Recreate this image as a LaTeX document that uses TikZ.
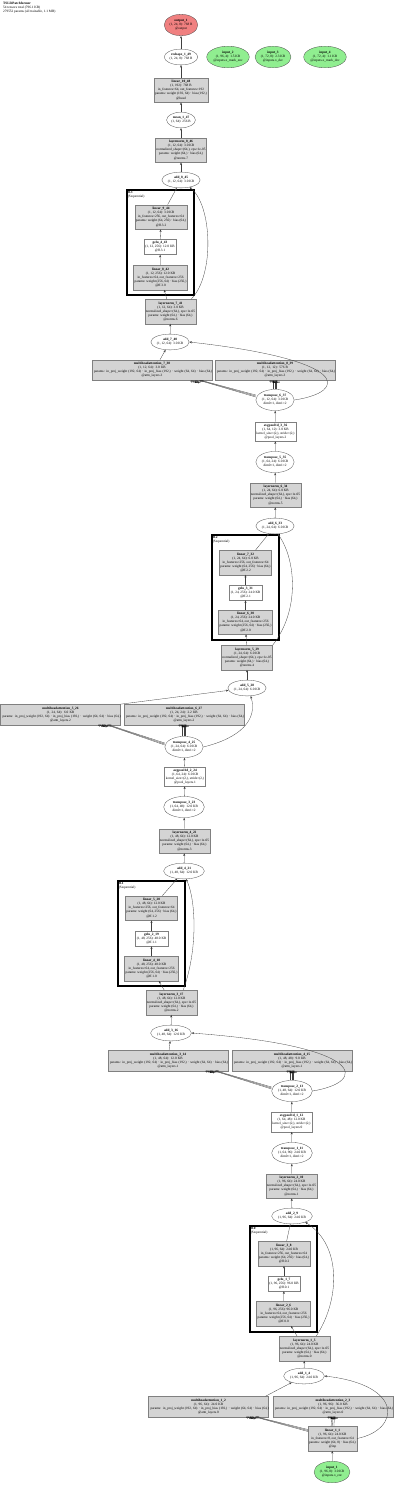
\documentclass[tikz,border=0pt]{standalone}
\usepackage{fontspec}
\setmainfont{Liberation Serif}
\usepackage{xcolor}
\usepackage{tikz}
\usetikzlibrary{arrows.meta, shapes.geometric}
\definecolor{ingreen}{RGB}{144,238,144}
\definecolor{outred}{RGB}{240,128,128}
\newcommand{\mhaparams}{\makebox[116pt][l]{params: in\_proj\_weight (192, 64) · in\_proj\_bias (192,) · weight (64, 64) · bias (64,)}}

\begin{document}
\begin{tikzpicture}[x=1pt, y=-1pt,
    every node/.style={font=\fontsize{3.4}{4.1}\selectfont, align=center},
    op/.style={draw=black!70, ellipse, fill=white, inner xsep=0.5pt, inner ysep=2pt, line width=0.3pt},
    mod/.style={draw=black!50, fill=black!17, inner xsep=1pt, inner ysep=2.5pt, line width=0.3pt},
    fn/.style={draw=black!50, fill=white, inner xsep=1.5pt, inner ysep=2pt, line width=0.3pt},
    attn/.style={mod, text width=116pt, inner xsep=2pt},
    src/.style={op, fill=ingreen},
    sink/.style={op, fill=outred},
    grp/.style={draw, line width=1.2pt, inner sep=0pt},
    grplbl/.style={anchor=north west, align=left, inner sep=0pt},
    arg/.style={font=\fontsize{3.2}{3.5}\selectfont\bfseries, inner sep=0.3pt, pos=1},
    edge/.style={-{Stealth[length=2.6pt,width=2pt]}, draw=black!75, line width=0.3pt},
]
\useasboundingbox (0,0) rectangle (400,1485);
\node[anchor=north west, align=left, inner sep=0pt] (title) at (3,2) {\textbf{TSLibPatchformer}\\54 tensors total (796.1 KB)\\279552 params (all trainable, 1.1 MB)};

% clusters
\node[grp, minimum width=67pt, minimum height=105pt] (ff3) at (160.5,242.5) {};
\node[grplbl] at ([shift={(1.2pt,-1.2pt)}]ff3.north west) {\textbf{ff.3}\\(Sequential)};
\node[grp, minimum width=67pt, minimum height=105pt] (ff2) at (245.5,587.5) {};
\node[grplbl] at ([shift={(1.2pt,-1.2pt)}]ff2.north west) {\textbf{ff.2}\\(Sequential)};
\node[grp, minimum width=67pt, minimum height=105pt] (ff1) at (151.5,933.5) {};
\node[grplbl] at ([shift={(1.2pt,-1.2pt)}]ff1.north west) {\textbf{ff.1}\\(Sequential)};
\node[grp, minimum width=67pt, minimum height=106pt] (ff0) at (283.5,1279) {};
\node[grplbl] at ([shift={(1.2pt,-1.2pt)}]ff0.north west) {\textbf{ff.0}\\(Sequential)};

% top
\node[sink] (out1) at (181,25) {\textbf{output\_1}\\(1, 24, 8): 768 B\\@output};
\node[op] (resh1) at (181,57) {\textbf{reshape\_1\_49}\\(1, 24, 8): 768 B};
\node[src] (in2) at (228,57) {\textbf{input\_2}\\(1, 96, 4): 1.5 KB\\@inputs.x\_mark\_enc};
\node[src] (in3) at (273,57) {\textbf{input\_3}\\(1, 72, 8): 2.3 KB\\@inputs.x\_dec};
\node[src] (in4) at (325,57) {\textbf{input\_4}\\(1, 72, 4): 1.1 KB\\@inputs.x\_mark\_dec};
\node[mod] (lin10) at (181,90) {\textbf{linear\_10\_48}\\(1, 192): 768 B\\in\_features=64, out\_features=192\\params: weight (192, 64) · bias (192,)\\@head};
\node[op] (mean1) at (181,120) {\textbf{mean\_1\_47}\\(1, 64): 256 B};
\node[mod] (ln8) at (181,150) {\textbf{layernorm\_8\_46}\\(1, 12, 64): 3.0 KB\\normalized\_shape=(64,), eps=1e-05\\params: weight (64,) · bias (64,)\\@norms.7};
\node[op] (add8) at (181,180) {\textbf{add\_8\_45}\\(1, 12, 64): 3.0 KB};

% block 3
\node[mod] (lin9) at (161,217) {\textbf{linear\_9\_44}\\(1, 12, 64): 3.0 KB\\in\_features=256, out\_features=64\\params: weight (64, 256) · bias (64,)\\@ff.3.2};
\node[fn] (gelu4) at (160,247) {\textbf{gelu\_4\_43}\\(1, 12, 256): 12.0 KB\\@ff.3.1};
\node[mod] (lin8) at (160.5,277.5) {\textbf{linear\_8\_42}\\(1, 12, 256): 12.0 KB\\in\_features=64, out\_features=256\\params: weight (256, 64) · bias (256,)\\@ff.3.0};
\node[mod] (ln7) at (170.5,311.5) {\textbf{layernorm\_7\_41}\\(1, 12, 64): 3.0 KB\\normalized\_shape=(64,), eps=1e-05\\params: weight (64,) · bias (64,)\\@norms.6};
\node[op] (add7) at (170,342) {\textbf{add\_7\_40}\\(1, 12, 64): 3.0 KB};
\node[attn] (mha7) at (152,370) {\textbf{multiheadattention\_7\_38}\\(1, 12, 64): 3.0 KB\\\mhaparams\\@attn\_layers.3};
\node[attn] (mha8) at (275,370) {\textbf{multiheadattention\_8\_39}\\(1, 12, 12): 576 B\\\mhaparams\\@attn\_layers.3};
\node[op] (tr6) at (275,400) {\textbf{transpose\_6\_37}\\(1, 12, 64): 3.0 KB\\dim0=1, dim1=2};
\node[fn] (pool3) at (275.5,431.5) {\textbf{avgpool1d\_3\_36}\\(1, 64, 12): 3.0 KB\\kernel\_size=(2,), stride=(2,)\\@pool\_layers.2};
\node[op] (tr5) at (275,462) {\textbf{transpose\_5\_35}\\(1, 64, 24): 6.0 KB\\dim0=1, dim1=2};
\node[mod] (ln6) at (275.5,495) {\textbf{layernorm\_6\_34}\\(1, 24, 64): 6.0 KB\\normalized\_shape=(64,), eps=1e-05\\params: weight (64,) · bias (64,)\\@norms.5};
\node[op] (add6) at (275,526) {\textbf{add\_6\_33}\\(1, 24, 64): 6.0 KB};

% block 2
\node[mod] (lin7) at (245.5,562.5) {\textbf{linear\_7\_32}\\(1, 24, 64): 6.0 KB\\in\_features=256, out\_features=64\\params: weight (64, 256) · bias (64,)\\@ff.2.2};
\node[fn] (gelu3) at (245.5,592.5) {\textbf{gelu\_3\_31}\\(1, 24, 256): 24.0 KB\\@ff.2.1};
\node[mod] (lin6) at (245.5,622) {\textbf{linear\_6\_30}\\(1, 24, 256): 24.0 KB\\in\_features=64, out\_features=256\\params: weight (256, 64) · bias (256,)\\@ff.2.0};
\node[mod] (ln5) at (247,657.5) {\textbf{layernorm\_5\_29}\\(1, 24, 64): 6.0 KB\\normalized\_shape=(64,), eps=1e-05\\params: weight (64,) · bias (64,)\\@norms.4};
\node[op] (add5) at (247,688) {\textbf{add\_5\_28}\\(1, 24, 64): 6.0 KB};
\node[attn] (mha5) at (60.5,714.5) {\textbf{multiheadattention\_5\_26}\\(1, 24, 64): 6.0 KB\\\mhaparams\\@attn\_layers.2};
\node[attn] (mha6) at (184,714.5) {\textbf{multiheadattention\_6\_27}\\(1, 24, 24): 2.2 KB\\\mhaparams\\@attn\_layers.2};
\node[op] (tr4) at (184,747) {\textbf{transpose\_4\_25}\\(1, 24, 64): 6.0 KB\\dim0=1, dim1=2};
\node[fn] (pool2) at (185,776.5) {\textbf{avgpool1d\_2\_24}\\(1, 64, 24): 6.0 KB\\kernel\_size=(2,), stride=(2,)\\@pool\_layers.1};
\node[op] (tr3) at (184,807) {\textbf{transpose\_3\_23}\\(1, 64, 48): 12.0 KB\\dim0=1, dim1=2};
\node[mod] (ln4) at (184.5,841) {\textbf{layernorm\_4\_22}\\(1, 48, 64): 12.0 KB\\normalized\_shape=(64,), eps=1e-05\\params: weight (64,) · bias (64,)\\@norms.3};
\node[op] (add4) at (184,871) {\textbf{add\_4\_21}\\(1, 48, 64): 12.0 KB};

% block 1
\node[mod] (lin5) at (151.5,908) {\textbf{linear\_5\_20}\\(1, 48, 64): 12.0 KB\\in\_features=256, out\_features=64\\params: weight (64, 256) · bias (64,)\\@ff.1.2};
\node[fn] (gelu2) at (151.5,938.5) {\textbf{gelu\_2\_19}\\(1, 48, 256): 48.0 KB\\@ff.1.1};
\node[mod] (lin4) at (151.5,968.5) {\textbf{linear\_4\_18}\\(1, 48, 256): 48.0 KB\\in\_features=64, out\_features=256\\params: weight (256, 64) · bias (256,)\\@ff.1.0};
\node[mod] (ln3) at (171.5,1002.5) {\textbf{layernorm\_3\_17}\\(1, 48, 64): 12.0 KB\\normalized\_shape=(64,), eps=1e-05\\params: weight (64,) · bias (64,)\\@norms.2};
\node[op] (add3) at (171,1033) {\textbf{add\_3\_16}\\(1, 48, 64): 12.0 KB};
\node[attn] (mha3) at (168,1060.5) {\textbf{multiheadattention\_3\_14}\\(1, 48, 64): 12.0 KB\\\mhaparams\\@attn\_layers.1};
\node[attn] (mha4) at (292,1060.5) {\textbf{multiheadattention\_4\_15}\\(1, 48, 48): 9.0 KB\\\mhaparams\\@attn\_layers.1};
\node[op] (tr2) at (292,1091) {\textbf{transpose\_2\_13}\\(1, 48, 64): 12.0 KB\\dim0=1, dim1=2};
\node[fn] (pool1) at (291.5,1122) {\textbf{avgpool1d\_1\_12}\\(1, 64, 48): 12.0 KB\\kernel\_size=(2,), stride=(2,)\\@pool\_layers.0};
\node[op] (tr1) at (292,1153) {\textbf{transpose\_1\_11}\\(1, 64, 96): 24.0 KB\\dim0=1, dim1=2};
\node[mod] (ln2) at (291.5,1186) {\textbf{layernorm\_2\_10}\\(1, 96, 64): 24.0 KB\\normalized\_shape=(64,), eps=1e-05\\params: weight (64,) · bias (64,)\\@norms.1};
\node[op] (add2) at (292,1216) {\textbf{add\_2\_9}\\(1, 96, 64): 24.0 KB};

% block 0
\node[mod] (lin3) at (284,1253.5) {\textbf{linear\_3\_8}\\(1, 96, 64): 24.0 KB\\in\_features=256, out\_features=64\\params: weight (64, 256) · bias (64,)\\@ff.0.2};
\node[fn] (gelu1) at (284,1283.5) {\textbf{gelu\_1\_7}\\(1, 96, 256): 96.0 KB\\@ff.0.1};
\node[mod] (lin2) at (283.5,1313.5) {\textbf{linear\_2\_6}\\(1, 96, 256): 96.0 KB\\in\_features=64, out\_features=256\\params: weight (256, 64) · bias (256,)\\@ff.0.0};
\node[mod] (ln1) at (304.5,1348.5) {\textbf{layernorm\_1\_5}\\(1, 96, 64): 24.0 KB\\normalized\_shape=(64,), eps=1e-05\\params: weight (64,) · bias (64,)\\@norms.0};
\node[op] (add1) at (304,1376) {\textbf{add\_1\_4}\\(1, 96, 64): 24.0 KB};
\node[attn] (mha1) at (208.5,1406.5) {\textbf{multiheadattention\_1\_2}\\(1, 96, 64): 24.0 KB\\\mhaparams\\@attn\_layers.0};
\node[attn] (mha2) at (333,1406.5) {\textbf{multiheadattention\_2\_3}\\(1, 96, 96): 36.0 KB\\\mhaparams\\@attn\_layers.0};
\node[mod] (lin1) at (332.5,1438.5) {\textbf{linear\_1\_1}\\(1, 96, 64): 24.0 KB\\in\_features=8, out\_features=64\\params: weight (64, 8) · bias (64,)\\@inp};
\node[src] (in1) at (332,1472) {\textbf{input\_1}\\(1, 96, 8): 3.0 KB\\@inputs.x\_enc};

% edges
\draw[edge] (in1) -- (lin1);
\foreach \d/\a in {-1.4/query,0/key,1.4/value} \draw[edge] ([xshift=\d pt]lin1.north) -- node[arg, anchor=north] {\a} ([xshift=\d pt]mha2.south);
\foreach \d/\a in {-1/query,0/key,1/value} \draw[edge] ([yshift=8pt+\d pt]lin1.west) -- node[arg, anchor=north east] {\a} ([xshift=-13pt+\d pt]mha1.south east);
\draw[edge] (lin1.east) .. controls (400,1430) and (405,1385) .. (add1.east);
\draw[edge] ([xshift=-3pt]mha1.north east) -- (add1);
\draw[edge] (add1) -- (ln1);
\draw[edge] (ln1) -- (lin2);
\draw[edge] ([xshift=-14pt]ln1.north east) .. controls (340,1300) and (342,1245) .. (add2.-25);
\draw[edge] (lin2) -- (gelu1); \draw[edge] (gelu1) -- (lin3); \draw[edge] (lin3) -- (add2);
\draw[edge] (add2) -- (ln2); \draw[edge] (ln2) -- (tr1); \draw[edge] (tr1) -- (pool1); \draw[edge] (pool1) -- (tr2);
\foreach \d/\a in {-1.4/query,0/key,1.4/value} \draw[edge] ([xshift=\d pt]tr2.north) -- node[arg, anchor=north] {\a} ([xshift=\d pt]mha4.south);
\foreach \d/\a in {-1/query,0/key,1/value} \draw[edge] ([yshift=3pt+\d pt]tr2.west) -- node[arg, anchor=north east] {\a} ([xshift=-13pt+\d pt]mha3.south east);
\draw[edge] (tr2.east) .. controls (368,1082) and (368,1046) .. (add3.east);
\draw[edge] (mha3) -- (add3);
\draw[edge] (add3) -- (ln3);
\draw[edge] (ln3) -- (lin4);
\draw[edge] ([xshift=-14pt]ln3.north east) .. controls (198,950) and (196,900) .. (add4.-75);
\draw[edge] (lin4) -- (gelu2); \draw[edge] (gelu2) -- (lin5); \draw[edge] (lin5) -- (add4);
\draw[edge] (add4) -- (ln4); \draw[edge] (ln4) -- (tr3); \draw[edge] (tr3) -- (pool2); \draw[edge] (pool2) -- (tr4);
\foreach \d/\a in {-1.4/query,0/key,1.4/value} \draw[edge] ([xshift=\d pt]tr4.north) -- node[arg, anchor=north] {\a} ([xshift=\d pt]mha6.south);
\foreach \d/\a in {-1/query,0/key,1/value} \draw[edge] ([yshift=3pt+\d pt]tr4.west) -- node[arg, anchor=north east] {\a} ([xshift=-13pt+\d pt]mha5.south east);
\draw[edge] (tr4.east) .. controls (240,738) and (258,720) .. (add5.-65);
\draw[edge] (mha5.north east) -- (add5);
\draw[edge] (add5) -- (ln5);
\draw[edge] (ln5) -- (lin6);
\draw[edge] (ln5.north east) .. controls (300,610) and (296,560) .. (add6.-70);
\draw[edge] (lin6) -- (gelu3); \draw[edge] (gelu3) -- (lin7); \draw[edge] (lin7) -- (add6);
\draw[edge] (add6) -- (ln6); \draw[edge] (ln6) -- (tr5); \draw[edge] (tr5) -- (pool3); \draw[edge] (pool3) -- (tr6);
\foreach \d/\a in {-1.4/query,0/key,1.4/value} \draw[edge] ([xshift=\d pt]tr6.north) -- node[arg, anchor=north] {\a} ([xshift=\d pt]mha8.south);
\foreach \d/\a in {-1/query,0/key,1/value} \draw[edge] ([yshift=4pt+\d pt]tr6.west) -- node[arg, anchor=north east] {\a} ([xshift=-12pt+\d pt]mha7.south east);
\draw[edge] (tr6.east) .. controls (348,392) and (352,360) .. (add7.east);
\draw[edge] ([xshift=8pt]mha7.north) -- (add7);
\draw[edge] (add7) -- (ln7);
\draw[edge] (ln7) -- (lin8);
\draw[edge] ([xshift=-5pt]ln7.north east) .. controls (215,275) and (212,205) .. (add8.-40);
\draw[edge] (lin8) -- (gelu4); \draw[edge] (gelu4) -- (lin9); \draw[edge] (lin9) -- (add8);
\draw[edge] (add8) -- (ln8); \draw[edge] (ln8) -- (mean1); \draw[edge] (mean1) -- (lin10);
\draw[edge] (lin10) -- (resh1); \draw[edge] (resh1) -- (out1);
\end{tikzpicture}
\end{document}
